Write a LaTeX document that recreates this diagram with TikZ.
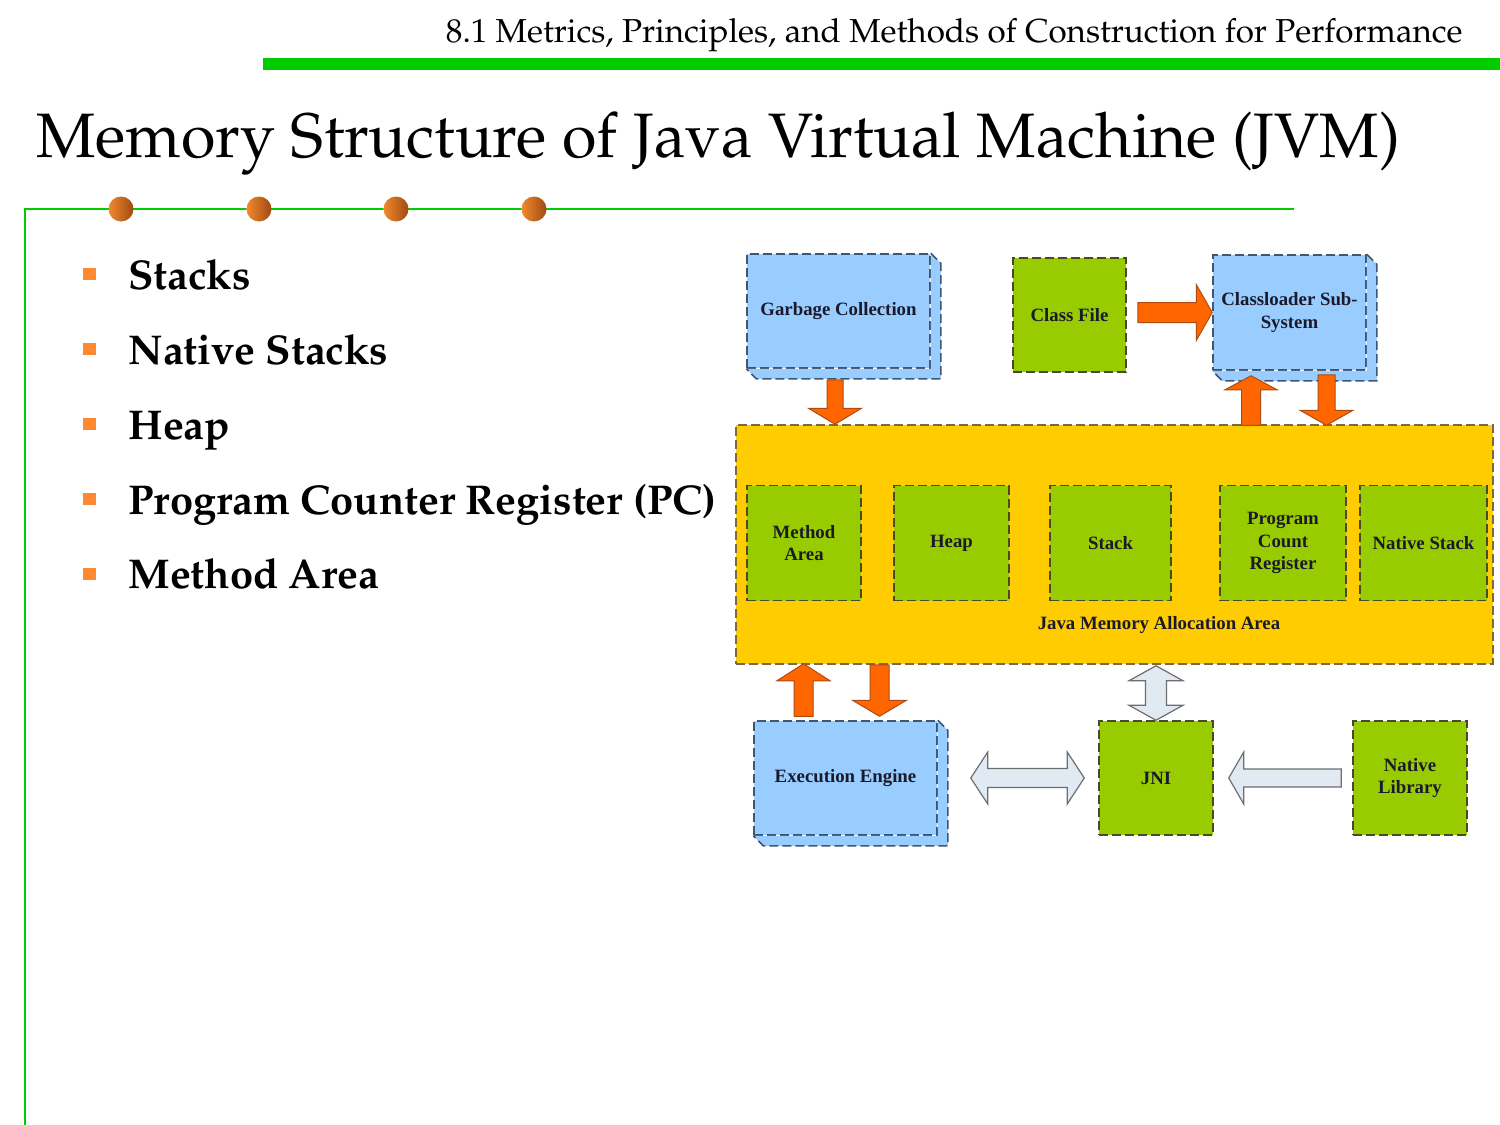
\documentclass[tikz,border=0pt]{standalone}
\usepackage[T1]{fontenc}
\usepackage{fontspec}
\newfontfamily\tnr{Liberation Serif}
\newcommand\pal{\fontencoding{T1}\fontfamily{ppl}\selectfont}
\usetikzlibrary{calc}
\definecolor{lblue}{HTML}{99CCFF}
\definecolor{bline}{HTML}{3F5670}
\definecolor{lgreen}{HTML}{99CC00}
\definecolor{gline}{HTML}{4A4A2A}
\definecolor{jyellow}{HTML}{FFCC00}
\definecolor{yline}{HTML}{7A6A40}
\definecolor{oarrow}{HTML}{FF6600}
\definecolor{oline}{HTML}{B04A10}
\definecolor{parrow}{HTML}{E1E9F3}
\definecolor{pline}{HTML}{6E6E6E}
\definecolor{hgreen}{HTML}{00CC00}
\definecolor{bulc}{HTML}{FF8833}
\definecolor{txtc}{HTML}{1A1A2A}
\definecolor{dotl}{HTML}{F28A2E}
\definecolor{dotd}{HTML}{9E4A12}

% single block arrow: #1 style, #2 from, #3 to, #4 half shaft, #5 half head, #6 head length (px)
\newcommand\blkarrow[6]{%
  \path[#1] let \p1=(#2), \p2=(#3), \n1={atan2(\y2-\y1,\x2-\x1)}, \n2={veclen(\x2-\x1,\y2-\y1)} in
  [shift={(\p1)}, rotate=\n1]
  (0pt,{#4*0.5pt}) -- ({\n2*1pt-#6*0.5pt},{#4*0.5pt}) -- ({\n2*1pt-#6*0.5pt},{#5*0.5pt})
  -- ({\n2*1pt},0pt) -- ({\n2*1pt-#6*0.5pt},{-#5*0.5pt}) -- ({\n2*1pt-#6*0.5pt},{-#4*0.5pt})
  -- (0pt,{-#4*0.5pt}) -- cycle;}
% double block arrow
\newcommand\dblarrow[6]{%
  \path[#1] let \p1=(#2), \p2=(#3), \n1={atan2(\y2-\y1,\x2-\x1)}, \n2={veclen(\x2-\x1,\y2-\y1)} in
  [shift={(\p1)}, rotate=\n1]
  (0pt,0pt) -- ({#6*0.5pt},{#5*0.5pt}) -- ({#6*0.5pt},{#4*0.5pt})
  -- ({\n2*1pt-#6*0.5pt},{#4*0.5pt}) -- ({\n2*1pt-#6*0.5pt},{#5*0.5pt})
  -- ({\n2*1pt},0pt) -- ({\n2*1pt-#6*0.5pt},{-#5*0.5pt}) -- ({\n2*1pt-#6*0.5pt},{-#4*0.5pt})
  -- ({#6*0.5pt},{-#4*0.5pt}) -- ({#6*0.5pt},{-#5*0.5pt}) -- cycle;}
% 3D depth of a box
\newcommand\depthof[1]{%
  \fill[lblue] (#1.north east) -- ([shift={(10,10)}]#1.north east) -- ([shift={(10,10)}]#1.south east)
    -- ([shift={(10,10)}]#1.south west) -- (#1.south west) -- (#1.south east) -- cycle;
  \draw[dashline, draw=bline] (#1.north east) -- ([shift={(10,10)}]#1.north east) -- ([shift={(10,10)}]#1.south east)
    -- ([shift={(10,10)}]#1.south west) -- (#1.south west);}

\tikzset{
  dashline/.style={line width=0.75pt, dash pattern=on 4.5pt off 2pt},
  boxtext/.style={font={\tnr\bfseries\fontsize{9.4}{11.3}\selectfont}, text=txtc, align=center},
  bluebox/.style={rectangle, fill=lblue, draw=bline, dashline, boxtext, inner sep=0pt},
  greenbox/.style={rectangle, fill=lgreen, draw=gline, dashline, boxtext, inner sep=0pt},
  yellowbox/.style={rectangle, fill=jyellow, draw=yline, dashline, inner sep=0pt},
  orangearrow/.style={fill=oarrow, draw=oline, line width=0.5pt, line join=miter},
  palearrow/.style={fill=parrow, draw=pline, line width=0.6pt, line join=miter},
  bul/.style={rectangle, fill=bulc, minimum width=6.3pt, minimum height=6pt, inner sep=0pt},
  bultext/.style={anchor=base west, inner sep=0pt, font={\pal\bfseries\fontsize{20.8}{25}\selectfont}},
  dot/.style={circle, minimum size=12.5pt, inner sep=0pt, left color=dotl, right color=dotd},
}

\begin{document}
\begin{tikzpicture}[x=0.5pt,y=-0.5pt]
\useasboundingbox (0,0) rectangle (1500,1125);
\fill[white] (0,0) rectangle (1500,1125);

% header
\node[anchor=base east, inner sep=0pt, font={\pal\fontsize{16.6}{20}\selectfont}] (hdr) at (1463,42)
  {8.1 Metrics, Principles, and Methods of Construction for Performance};
\fill[hgreen] (263,58) rectangle (1500,70);

% title
\node[anchor=base west, inner sep=0pt, font={\pal\fontsize{31.4}{38}\selectfont}] (title) at (36,157)
  {Memory Structure of Java Virtual Machine (JVM)};

% frame lines
\coordinate (fl1) at (25,1125);
\coordinate (fl2) at (25,209);
\coordinate (fl3) at (1294,209);
\draw[hgreen, line width=1.1pt] (fl1) -- (fl2) -- (fl3);
\node[dot] (d1) at (121,209) {};
\node[dot] (d2) at (259,209) {};
\node[dot] (d3) at (396,209) {};
\node[dot] (d4) at (534,209) {};

% bullets
\node[bul] (b1) at (89.5,274) {};
\node[bul] (b2) at (89.5,349) {};
\node[bul] (b3) at (89.5,424) {};
\node[bul] (b4) at (89.5,499) {};
\node[bul] (b5) at (89.5,574) {};
\node[bultext] (t1) at (128,289) {Stacks};
\node[bultext] (t2) at (128,364) {Native Stacks};
\node[bultext] (t3) at (128,439) {Heap};
\node[bultext] (t4) at (128,514) {Program Counter Register (PC)};
\node[bultext] (t5) at (128,588) {Method Area};

% diagram top
\node[bluebox, minimum width=91.5pt, minimum height=57pt] (gc) at (838.5,311) {Garbage Collection};
\depthof{gc}
\node[greenbox, minimum width=56.5pt, minimum height=57pt] (cf) at (1069.5,315) {Class File};
\node[bluebox, minimum width=76.5pt, minimum height=57.5pt] (cl) at (1289.5,312.5) {Classloader Sub-\\System};
\depthof{cl}

% memory area
\node[yellowbox, minimum width=378.5pt, minimum height=119.5pt] (jm) at (1114.5,544.5) {};
\node[greenbox, minimum width=57pt, minimum height=57.5pt] (ma) at (804,543) {Method\\Area};
\node[greenbox, minimum width=57.5pt, minimum height=57.5pt] (hp) at (951.5,543) {Heap};
\node[greenbox, minimum width=60.5pt, minimum height=57.5pt] (st) at (1110.5,543) {Stack};
\node[greenbox, minimum width=63pt, minimum height=57.5pt] (pc) at (1283,543) {Program\\Count\\Register};
\node[greenbox, minimum width=63.5pt, minimum height=57.5pt] (ns) at (1423.5,543) {Native Stack};
\node[boxtext] (jml) at (1159,625) {Java Memory Allocation Area};

% bottom
\node[bluebox, minimum width=91.5pt, minimum height=57pt] (ee) at (845.5,778) {Execution Engine};
\depthof{ee}
\node[greenbox, minimum width=57pt, minimum height=57pt] (jni) at (1156,778) {JNI};
\node[greenbox, minimum width=57pt, minimum height=57pt] (nl) at (1410,778) {Native\\Library};

% arrows
\blkarrow{orangearrow}{$(gc.south)+(-3.5,11)$}{$(gc.south |- jm.north)+(-3.5,0)$}{8}{26.5}{16}
\blkarrow{orangearrow}{$(cf.east |- cl.west)+(11,0)$}{cl.west}{10}{28}{16}
\blkarrow{orangearrow}{$(cl.south |- jm.north)+(-38.5,1)$}{$(cl.south)+(-38.5,5)$}{9.5}{26}{14}
\blkarrow{orangearrow}{$(cl.south)+(37,4)$}{$(cl.south |- jm.north)+(37,1)$}{8.5}{26.5}{15}
\blkarrow{orangearrow}{$(ee.north)+(-42,-4)$}{$(ee.north |- jm.south)+(-42,-1)$}{9.5}{26.5}{17}
\blkarrow{orangearrow}{$(ee.north |- jm.south)+(34,0)$}{$(ee.north)+(34,-4)$}{9.5}{27}{16}
\dblarrow{palearrow}{$(jni.north |- jm.south)+(0,1)$}{jni.north}{10.5}{27}{15}
\dblarrow{palearrow}{$(ee.east)+(33,0)$}{$(jni.west)+(-14,0)$}{9.5}{26}{17}
\blkarrow{palearrow}{$(nl.west)+(-11,0)$}{$(jni.east)+(15,0)$}{9}{26}{15}
\end{tikzpicture}
\end{document}
